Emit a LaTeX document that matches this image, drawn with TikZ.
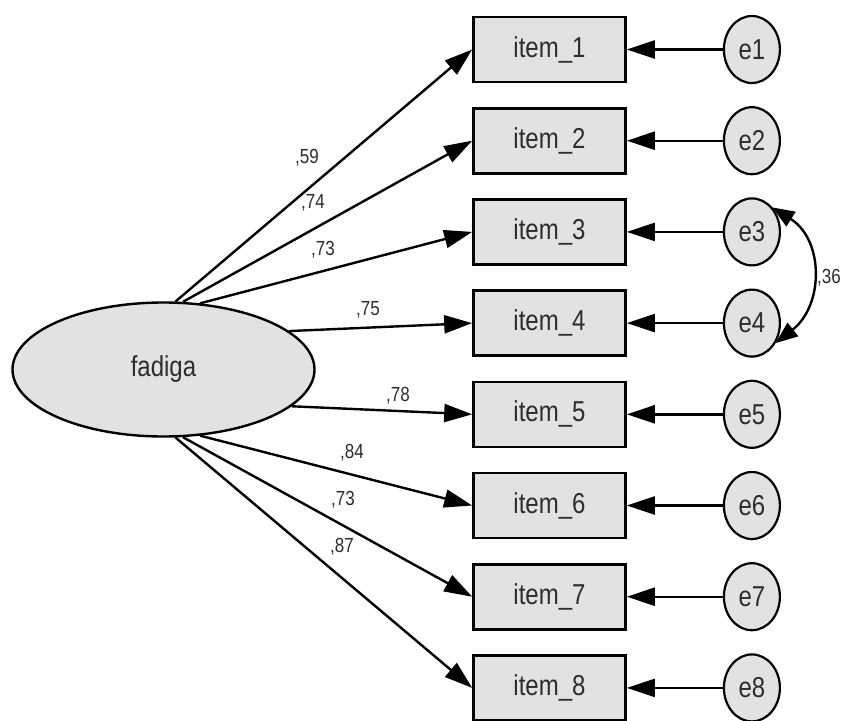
\documentclass[tikz,border=0pt]{standalone}
\usepackage{fontspec}
\setmainfont{Liberation Sans}
\usepackage{graphicx}
\usetikzlibrary{positioning, arrows.meta, shapes.geometric}
\definecolor{amosgray}{RGB}{226,226,226}
\definecolor{inkgray}{RGB}{45,45,45}
\newcommand{\tall}[1]{\scalebox{1}[1.2]{#1}}

\begin{document}
\begin{tikzpicture}[
  x=1pt, y=-1pt,
  item/.style={draw, line width=2.6pt, fill=amosgray, minimum width=152pt, minimum height=65pt,
               inner sep=0pt, text=inkgray, font=\fontsize{24}{26}\selectfont},
  err/.style={draw, ellipse, line width=2.2pt, fill=amosgray, minimum width=56pt, minimum height=67pt,
              inner sep=0pt, text=inkgray, font=\fontsize{24}{26}\selectfont},
  latent/.style={draw, ellipse, line width=2.4pt, fill=amosgray, minimum width=302pt, minimum height=134pt,
                 inner sep=0pt, text=inkgray, font=\fontsize{24}{26}\selectfont},
  lbl/.style={inner sep=0pt, text=inkgray, font=\fontsize{17}{19}\selectfont},
  arr/.style={-{Triangle[length=28pt, width=18pt]}, line width=2.4pt},
  cov/.style={{Triangle[length=22pt, width=17pt]}-{Triangle[length=22pt, width=17pt]}, line width=2.4pt},
]
  \useasboundingbox (0,0) rectangle (845,720);

  \node[latent] (fadiga) at (163.5,369.5) {\tall{fadiga}};

  % observed items
  \node[item] (item1) at (549.5,49.5) {\tall{item\_1}};
  \node[item, below=23.6pt of item1] (item2) {\tall{item\_2}};
  \node[item, below=23.6pt of item2] (item3) {\tall{item\_3}};
  \node[item, below=23.6pt of item3] (item4) {\tall{item\_4}};
  \node[item, below=23.6pt of item4] (item5) {\tall{item\_5}};
  \node[item, below=23.6pt of item5] (item6) {\tall{item\_6}};
  \node[item, below=23.6pt of item6] (item7) {\tall{item\_7}};
  \node[item, below=23.6pt of item7] (item8) {\tall{item\_8}};

  % error terms
  \node[err, right=96pt of item1] (e1) {\tall{e1}};
  \node[err, right=96pt of item2] (e2) {\tall{e2}};
  \node[err, right=96pt of item3] (e3) {\tall{e3}};
  \node[err, right=96pt of item4] (e4) {\tall{e4}};
  \node[err, right=96pt of item5] (e5) {\tall{e5}};
  \node[err, right=96pt of item6] (e6) {\tall{e6}};
  \node[err, right=96pt of item7] (e7) {\tall{e7}};
  \node[err, right=96pt of item8] (e8) {\tall{e8}};

  % loadings
  \draw[arr] (fadiga.80) -- (item1.west);
  \draw[arr] (fadiga.74) -- (item2.west);
  \draw[arr] (fadiga.61) -- (item3.west);
  \draw[arr] (fadiga.17) -- (item4.west);
  \draw[arr] (fadiga.-16) -- (item5.west);
  \draw[arr] (fadiga.-61) -- (item6.west);
  \draw[arr] (fadiga.-74) -- (item7.west);
  \draw[arr] (fadiga.-80) -- (item8.west);

  \node[lbl] (w1) at (307,158) {\tall{,59}};
  \node[lbl] (w2) at (313,203) {\tall{,74}};
  \node[lbl] (w3) at (323,250) {\tall{,73}};
  \node[lbl] (w4) at (368,310) {\tall{,75}};
  \node[lbl] (w5) at (398,396) {\tall{,78}};
  \node[lbl] (w6) at (352,453) {\tall{,84}};
  \node[lbl] (w7) at (343,500) {\tall{,73}};
  \node[lbl] (w8) at (342,547) {\tall{,87}};

  % residuals
  \draw[arr] (e1) -- (item1);
  \draw[arr] (e2) -- (item2);
  \draw[arr] (e3) -- (item3);
  \draw[arr] (e4) -- (item4);
  \draw[arr] (e5) -- (item5);
  \draw[arr] (e6) -- (item6);
  \draw[arr] (e7) -- (item7);
  \draw[arr] (e8) -- (item8);

  \draw[cov] (e3.50) .. controls (824,240) and (824,305) .. (e4.-40);
  \node[lbl] (c34) at (829,278) {\tall{,36}};
\end{tikzpicture}
\end{document}
